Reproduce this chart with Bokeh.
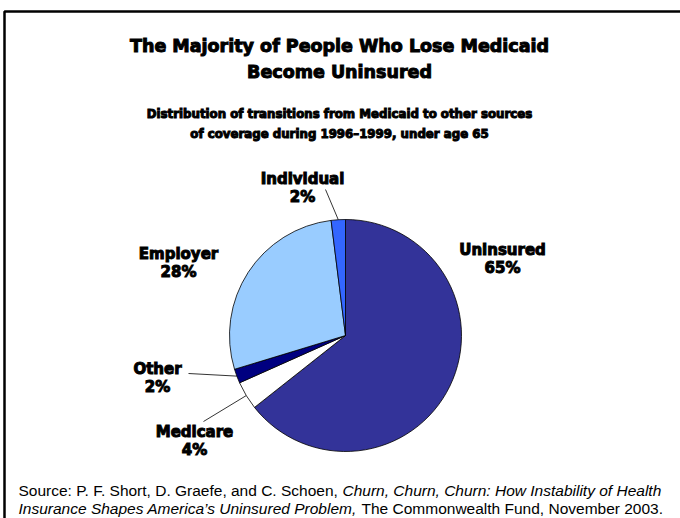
import numpy as np
from bokeh.plotting import figure
from bokeh.models import ColumnDataSource, Range1d, BoxAnnotation
from bokeh.core.properties import value
from bokeh.embed import file_html
from bokeh.resources import INLINE

# ---------------- data ----------------
categories = ["Uninsured", "Medicare", "Other", "Employer", "Individual"]
shares = [65, 4, 2, 28, 2]
colors = ["#333399", "#FFFFFF", "#000080", "#99CCFF", "#3366FF"]

title_lines = ["The Majority of People Who Lose Medicaid", "Become Uninsured"]
subtitle_lines = ["Distribution of transitions from Medicaid to other sources",
                  "of coverage during 1996\u20131999, under age 65"]
source_line1 = ["Source: P. F. Short, D. Graefe, and C. Schoen,",
                "Churn, Churn, Churn: How Instability of Health"]
source_line2 = ["Insurance Shapes America\u2019s Uninsured Problem,",
                "The Commonwealth Fund, November 2003."]

# ---------------- layout (pixels from top-left) ----------------
W, H = 680, 518
def Y(ypix):
    return H - ypix

cx, cy, R = 345, Y(335), 116
label_pos = {  # label centre (x, y of name line); pct line 18px lower
    "Uninsured": (502, 249),
    "Medicare": (194, 431),
    "Other": (157, 368),
    "Employer": (178, 253),
    "Individual": (302, 178),
}
leader_start = {
    "Individual": (325, 189),
    "Other": (188, 373),
    "Medicare": (203, 421),
}

p = figure(width=W, height=H, x_range=Range1d(0, W), y_range=Range1d(0, H),
           output_backend="svg", toolbar_location=None, min_border=0,
           outline_line_color=None, background_fill_color="white",
           border_fill_color="white")
p.axis.visible = False
p.grid.visible = False

# frame
p.add_layout(BoxAnnotation(left=4, top=Y(11), right=W + 20, bottom=-20,
                           fill_color=None, fill_alpha=0, line_color="black",
                           line_alpha=1, line_width=2.5))

# pie
vals = np.array(shares, dtype=float)
frac = vals / vals.sum()
cum = np.concatenate([[0], np.cumsum(frac)])
start = np.pi / 2 - 2 * np.pi * cum[:-1]
end = np.pi / 2 - 2 * np.pi * cum[1:]
mid = (start + end) / 2
src = ColumnDataSource(dict(start=start, end=end, color=colors,
                            x=[cx] * len(vals), y=[cy] * len(vals)))
p.wedge(x="x", y="y", radius=R, start_angle="start", end_angle="end",
        direction="clock", fill_color="color", line_color="black",
        line_width=0.8, source=src)

# leader lines
for name, (sx, sy) in leader_start.items():
    i = categories.index(name)
    ex = cx + R * np.cos(mid[i])
    ey = cy + R * np.sin(mid[i])
    p.line([sx, ex], [Y(sy), ey], line_color="black", line_width=0.8)

heavy = dict(text_font=value("DejaVu Sans"), text_font_style="bold",
             text_color="black", text_outline_color="black")

# labels
names_x, names_y, pct_y, pct_txt = [], [], [], []
for name, v in zip(categories, shares):
    lx, ly = label_pos[name]
    names_x.append(lx)
    names_y.append(Y(ly))
    pct_y.append(Y(ly + 18))
    pct_txt.append(f"{v}%")
lab = ColumnDataSource(dict(x=names_x, y=names_y, y2=pct_y,
                            name=categories, pct=pct_txt))
for ycol, tcol in (("y", "name"), ("y2", "pct")):
    p.text(x="x", y=ycol, text=tcol, source=lab, text_align="center",
           text_baseline="middle", text_font_size="15px", **heavy)

# titles
p.text(x=[339, 339], y=[Y(45), Y(71)], text=title_lines, text_align="center",
       text_baseline="middle", text_font_size="17.5px", **heavy)
p.text(x=[339, 339], y=[Y(113), Y(133)], text=subtitle_lines, text_align="center",
       text_baseline="middle", text_font_size="11.8px", **heavy)

# source
sf = value("Liberation Sans")
p.text(x=[18], y=[Y(490)], text=[source_line1[0]], text_baseline="middle",
       text_font=sf, text_font_size="15.5px", text_color="black")
p.text(x=[342], y=[Y(490)], text=[source_line1[1]], text_baseline="middle",
       text_font=sf, text_font_style="italic", text_font_size="15.5px", text_color="black")
p.text(x=[18], y=[Y(508)], text=[source_line2[0]], text_baseline="middle",
       text_font=sf, text_font_style="italic", text_font_size="15.5px", text_color="black")
p.text(x=[361], y=[Y(508)], text=[source_line2[1]], text_baseline="middle",
       text_font=sf, text_font_size="15.5px", text_color="black")

open("out.html", "w").write(file_html(p, INLINE))
